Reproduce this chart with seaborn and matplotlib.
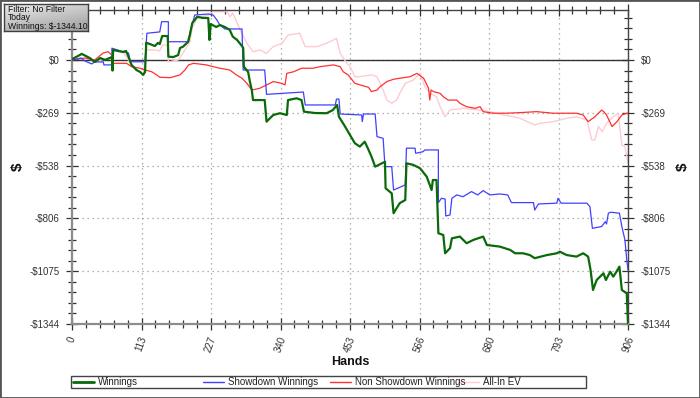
import numpy as np
import matplotlib
matplotlib.use("Agg")
import matplotlib.pyplot as plt
import seaborn as sns
from matplotlib.ticker import MultipleLocator
from matplotlib.lines import Line2D
from matplotlib.patches import Rectangle
from matplotlib.colors import LinearSegmentedColormap

# ---------------- data ----------------
win_hands = [0, 16, 29, 37, 46, 54, 65, 66, 67, 83, 88, 92, 97, 105, 111, 116, 119, 121, 127, 135,
             140, 143, 147, 156, 157, 165, 173, 176, 181, 189, 192, 196, 204, 213, 222, 224, 226, 235, 241, 249,
             257, 262, 269, 277, 279, 280, 287, 290, 293, 295, 306, 314, 317, 328, 339, 350, 352, 366, 374, 378,
             396, 415, 425, 432, 435, 445, 453, 461, 469, 477, 482, 488, 494, 505, 510, 511, 521, 524, 534, 543,
             545, 556, 567, 578, 586, 588, 594, 597, 605, 608, 616, 619, 632, 643, 654, 670, 676, 697, 714, 722,
             735, 746, 754, 774, 790, 795, 806, 822, 833, 841, 845, 849, 855, 866, 870, 877, 882, 886, 892, 896,
             904, 906]
win_values = [4, 31, 10, -10, 10, 0, 15, -54, 51, 41, 46, 17, -25, -51, -61, -76, -61, 88, 81, 71,
              87, 81, 122, 122, 17, 15, 25, 61, 68, 92, 127, 188, 220, 214, 214, 102, 183, 168, 178, 168,
              153, 119, 102, 71, 61, -34, -61, -112, -153, -204, -204, -204, -314, -280, -271, -280, -204, -195, -204, -263,
              -270, -271, -255, -229, -289, -339, -382, -424, -441, -416, -449, -492, -543, -526, -518, -653, -679, -780, -729, -713,
              -526, -534, -551, -594, -662, -611, -611, -882, -891, -984, -958, -908, -899, -933, -916, -899, -942, -950, -967, -984,
              -984, -993, -1009, -993, -984, -976, -993, -1001, -984, -1001, -1069, -1171, -1120, -1086, -1120, -1078, -1103, -1084, -1052, -1171,
              -1188, -1344.1]

sd_hands = [0, 15, 21, 32, 37, 51, 52, 65, 65, 83, 92, 95, 119, 122, 143, 146, 157, 157, 190, 192,
            200, 222, 230, 236, 241, 249, 277, 279, 314, 317, 377, 380, 429, 431, 435, 437, 472, 473, 475, 494,
            497, 507, 510, 521, 524, 543, 545, 559, 560, 572, 575, 597, 597, 602, 608, 609, 616, 619, 627, 637,
            651, 661, 670, 681, 697, 710, 716, 752, 754, 760, 790, 792, 797, 839, 844, 848, 863, 869, 871, 874,
            878, 892, 896, 901, 904, 906]
sd_values = [0, 10, -5, -20, -10, -10, -25, -25, 60, 42, 36, -9, -9, 136, 143, 195, 195, 93, 93, 136,
             229, 234, 229, 204, 178, 158, 158, -51, -51, -175, -163, -229, -229, -199, -199, -275, -280, -314, -275, -275,
             -390, -399, -543, -543, -662, -636, -449, -449, -475, -467, -458, -458, -726, -704, -708, -794, -789, -704, -687, -696,
             -670, -687, -665, -687, -682, -687, -726, -726, -764, -733, -729, -704, -729, -729, -747, -857, -848, -823, -835, -780,
             -775, -780, -848, -916, -1018, -1069]

nsd_hands = [0, 21, 37, 51, 59, 65, 67, 89, 97, 111, 119, 130, 138, 143, 160, 176, 184, 190, 198, 219,
             230, 241, 257, 268, 277, 285, 293, 306, 317, 328, 342, 347, 350, 361, 374, 393, 404, 426, 437, 442,
             450, 461, 475, 483, 488, 497, 502, 513, 524, 534, 551, 562, 573, 581, 583, 585, 589, 600, 605, 613,
             627, 632, 643, 657, 665, 670, 686, 708, 730, 757, 784, 822, 833, 841, 852, 863, 867, 871, 880, 888,
             896, 904, 906]
nsd_values = [0, 10, 0, 36, 42, 25, -17, -17, -34, -42, -51, -60, -76, -88, -90, -76, -51, -25, -17, -25,
              -34, -42, -51, -76, -93, -119, -153, -144, -127, -110, -119, -127, -68, -60, -42, -42, -34, -25, -34, -60,
              -76, -119, -132, -139, -161, -153, -136, -110, -98, -93, -85, -68, -93, -144, -204, -153, -161, -170, -187, -204,
              -204, -220, -238, -246, -238, -263, -271, -271, -268, -263, -271, -271, -280, -314, -289, -255, -265, -280, -339, -314,
              -280, -271, -272]

ev_hands = [0, 16, 37, 65, 66, 67, 83, 97, 116, 121, 135, 143, 147, 156, 157, 173, 181, 192, 196, 204,
            222, 230, 253, 257, 262, 274, 285, 295, 306, 317, 328, 342, 352, 371, 380, 399, 415, 431, 437, 448,
            453, 461, 469, 488, 497, 507, 513, 521, 529, 534, 543, 556, 567, 575, 584, 594, 600, 608, 616, 637,
            665, 681, 703, 719, 730, 754, 763, 784, 806, 822, 839, 847, 852, 858, 864, 871, 882, 890, 896, 901,
            906]
ev_values = [4, 31, -10, 15, -54, 51, 41, -25, -76, 51, 51, 46, 76, 76, -10, 0, 36, 92, 163, 214,
             229, 246, 246, 220, 239, 153, 85, 42, 51, 34, 68, 85, 127, 136, 68, 68, 85, 110, 34, -17,
             -34, -85, -85, -76, -85, -153, -204, -220, -204, -170, -119, -102, -68, -136, -170, -187, -238, -289, -255, -246,
             -255, -263, -280, -289, -297, -331, -322, -314, -297, -289, -305, -407, -407, -339, -365, -322, -289, -271, -433, -441,
             -526]

series_names = ["Winnings", "Showdown Winnings", "Non Showdown Winnings", "All-In EV"]
series_colors = ["#0a6a0a", "#4040ff", "#ff3030", "#ffcad2"]

y_tick_values = [0, -268.82, -537.64, -806.46, -1075.28, -1344.1]
y_tick_labels = ["$0", "-$269", "-$538", "-$806", "-$1075", "-$1344"]
x_tick_values = [0, 113.25, 226.5, 339.75, 453, 566.25, 679.5, 792.75, 906]
x_tick_labels = ["0", "113", "227", "340", "453", "566", "680", "793", "906"]

info_lines = ["Filter: No Filter", "Today", "Winnings: $-1344.10"]

# ---------------- figure ----------------
sns.set_theme(style="white")
plt.rcParams['font.family'] = ['Liberation Sans', 'DejaVu Sans']

W, H = 700, 398
fig = plt.figure(figsize=(W / 100, H / 100), dpi=100)
fig.patch.set_facecolor("white")


def fx(x):
    return x / W


def fy(y):
    return 1 - y / H


ax = fig.add_axes([fx(72), fy(324), (628 - 72) / W, (324 - 10) / H])
ax.set_facecolor("white")

sns.lineplot(x=ev_hands, y=ev_values, ax=ax, color=series_colors[3], lw=1.0,
             estimator=None, sort=False, legend=False, zorder=2)
sns.lineplot(x=nsd_hands, y=nsd_values, ax=ax, color=series_colors[2], lw=0.9,
             estimator=None, sort=False, legend=False, zorder=3)
sns.lineplot(x=sd_hands, y=sd_values, ax=ax, color=series_colors[1], lw=0.9,
             estimator=None, sort=False, legend=False, zorder=4)
sns.lineplot(x=win_hands, y=win_values, ax=ax, color=series_colors[0], lw=1.6,
             estimator=None, sort=False, legend=False, zorder=5)

ax.axhline(0, color="#333333", lw=1.0, zorder=1.5)

ax.set_xlim(0, 906)
ax.set_ylim(-1344.1, 254.5)
ax.set_xticks(x_tick_values, x_tick_labels)
ax.set_yticks(y_tick_values, y_tick_labels)
ax.xaxis.set_minor_locator(MultipleLocator(906 / 40))
ax.yaxis.set_minor_locator(MultipleLocator(1344.1 / 25))

ax.grid(True, which="major", linestyle=(0, (1, 3)), color="#9a9a9a", lw=0.9, zorder=1)
ax.set_axisbelow(True)

ax.tick_params(which="major", direction="inout", length=8, width=0.9, color="#333333",
               top=True, right=True, bottom=True, left=True,
               labelright=True, labelleft=True, labelsize=7, labelcolor="#333333")
ax.tick_params(which="minor", direction="inout", length=6, width=0.9, color="#333333",
               top=True, right=True, bottom=True, left=True)
ax.tick_params(axis="y", which="major", pad=5)
ax.tick_params(axis="x", which="major", pad=4)
for lab in ax.get_xticklabels():
    lab.set_rotation(70)
    lab.set_ha("center")
    lab.set_va("top")

for side in ["left", "bottom"]:
    ax.spines[side].set_color("#8c8c8c")
    ax.spines[side].set_linewidth(1.6)
for side in ["top", "right"]:
    ax.spines[side].set_color("#444444")
    ax.spines[side].set_linewidth(1.0)

ax.set_xlabel("Hands", fontsize=9, fontweight="bold", color="#111111")
ax.xaxis.set_label_coords(0.5, (324 - 362) / 314)
ax.xaxis.label.set_va("center")
ax.set_ylabel("$", fontsize=11, fontweight="bold", color="#111111")
ax.yaxis.set_label_coords((18 - 72) / 556, 0.5)
ax.yaxis.label.set_va("center")
fig.text(fx(683), fy(167), "$", fontsize=11, fontweight="bold", color="#111111",
         rotation=90, ha="center", va="center")

# ---------------- legend (bottom strip) ----------------
fig.patches.append(Rectangle((fx(70.5), fy(388)), (586 - 70.5) / W, (388 - 376) / H,
                             transform=fig.transFigure, fill=True, facecolor="white",
                             edgecolor="#444444", lw=1.0))
leg_x = [73, 203, 330, 458]
leg_lw = [2.0, 1.0, 1.0, 1.0]
for name, col, x0, lw in zip(series_names, series_colors, leg_x, leg_lw):
    fig.add_artist(Line2D([fx(x0), fx(x0 + 21)], [fy(382), fy(382)], color=col, lw=lw,
                          transform=fig.transFigure))
    fig.text(fx(x0 + 25), fy(382), name, fontsize=7, color="#222222", ha="left", va="center")

# ---------------- info box (top-left) ----------------
ibox = fig.add_axes([fx(4), fy(31), (88 - 4) / W, (31 - 4) / H])
grad = np.linspace(0, 1, 64)
gx, gy = np.meshgrid(grad, grad)
box_cmap = LinearSegmentedColormap.from_list("box", ["#ececec", "#c4c4c4", "#9c9c9c"])
ibox.imshow(0.35 * gx + 0.65 * gy, cmap=box_cmap, vmin=0, vmax=1, aspect="auto",
            extent=[0, 1, 0, 1], origin="upper")
ibox.set_xticks([])
ibox.set_yticks([])
for sp in ibox.spines.values():
    sp.set_color("#404040")
    sp.set_linewidth(1.0)
for i, line in enumerate(info_lines):
    ibox.text(0.05, 0.80 - i * 0.31, line, transform=ibox.transAxes, fontsize=6.2,
              color="#111111", ha="left", va="center")

# figure border
fig.patches.append(Rectangle((0, 0), 1, 1, transform=fig.transFigure, fill=False,
                             edgecolor="#555555", lw=2.0))

fig.savefig("out.png", dpi=100)
